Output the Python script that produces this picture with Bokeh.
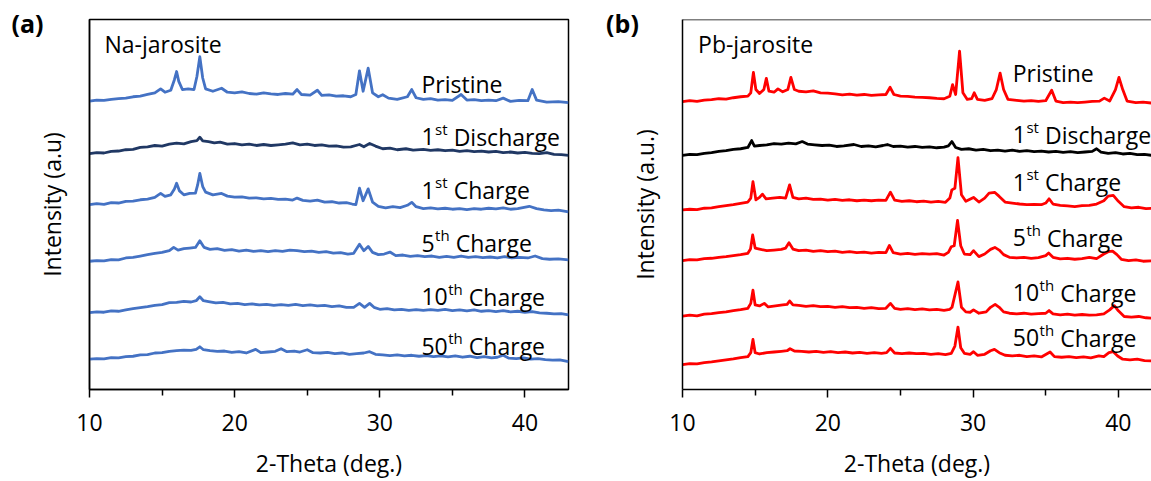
from bokeh.plotting import figure
from bokeh.layouts import row
from bokeh.models import Range1d, FixedTicker, Label, Span, ColumnDataSource
from bokeh.core.properties import value
from bokeh.embed import file_html
from bokeh.resources import INLINE

# ---------------- data: (2-theta in deg, stacked intensity in a.u.) ----------------
na_pristine = [
    (10, 292.3), (10.5, 293.3), (11, 293), (11.5, 294), (12, 294.7), (12.5, 295.3), (13, 296.7), (13.5, 297.3),
    (14, 299), (14.5, 300.7), (14.9, 304.7), (15.2, 301.3), (15.6, 303.3), (15.85, 314), (16.0, 322.3),
    (16.15, 312.3), (16.4, 304), (16.8, 304.7), (17.2, 304), (17.4, 317.3), (17.6, 337.3), (17.8, 315.7),
    (18.0, 304.7), (18.5, 302.3), (19.1, 305.3), (19.5, 301.3), (20, 300.7), (20.5, 301.7), (21, 300),
    (21.5, 299.3), (22, 300.7), (22.5, 299.7), (23, 299), (23.5, 300), (24, 299.3), (24.3, 304), (24.6, 299),
    (25.2, 298.3), (25.7, 303.3), (26.0, 298), (26.5, 298.7), (27, 297.3), (27.5, 297.7), (28, 296.7),
    (28.35, 299), (28.6, 323), (28.85, 302.3), (29.2, 325.7), (29.5, 300.7), (29.9, 296.7), (30.2, 298.7),
    (30.6, 295.3), (31.2, 294), (31.9, 296.7), (32.2, 304), (32.5, 295.7), (33, 294), (33.5, 294.7), (34, 293.3),
    (34.5, 293.8), (35, 293), (35.6, 299), (36, 293.3), (36.5, 293.7), (37, 292.7), (37.5, 293.3), (38, 292.7),
    (38.5, 295.3), (39, 292), (39.6, 293), (40.2, 292.7), (40.5, 304), (40.8, 293.3), (41.5, 291.3),
    (42.3, 291.7), (43, 290.7)]

na_discharge1 = [
    (10, 239), (10.5, 240), (11, 239.7), (11.5, 241.3), (12, 241.7), (12.5, 243), (13, 243.3), (13.5, 245.3),
    (14, 246), (14.5, 247.3), (15, 246.7), (15.5, 248.7), (16, 249.7), (16.5, 249), (17, 251.3), (17.4, 252.3),
    (17.6, 255.7), (17.8, 252), (18.2, 251.3), (18.6, 250), (19, 250.7), (19.5, 248.7), (20, 249.3), (20.5, 248),
    (21, 248.7), (21.5, 247.3), (22, 248.3), (22.5, 247.3), (23, 248), (23.5, 248.7), (24, 250), (24.5, 248),
    (25, 248.7), (25.5, 247.3), (26, 248), (26.5, 246.7), (27, 247), (27.5, 245.7), (28, 246), (28.6, 248.3),
    (28.9, 246), (29.3, 249.3), (29.7, 246.7), (30.2, 244), (30.7, 244.7), (31.2, 243), (31.8, 244),
    (32.3, 242.7), (33, 243.3), (33.5, 242.3), (34, 243), (34.5, 242), (35, 242.7), (35.5, 241.3), (36, 242),
    (36.5, 241), (37, 241.7), (37.5, 240.7), (38, 241.3), (38.5, 240), (39, 240.7), (39.5, 239.7), (40, 240.3),
    (40.5, 239.3), (41, 239), (41.5, 240), (42, 238.3), (42.5, 238), (43, 237.3)]

na_charge1 = [
    (10, 187.3), (10.5, 188.3), (11, 187.7), (11.5, 189.3), (12, 189), (12.5, 190.7), (13, 191), (13.5, 192.3),
    (14, 193), (14.5, 194.7), (14.9, 198.7), (15.2, 195.7), (15.6, 197.3), (15.85, 203.3), (16.0, 209),
    (16.2, 201.3), (16.5, 197.3), (16.9, 198.7), (17.3, 199), (17.45, 207.3), (17.6, 219), (17.8, 205.7),
    (18.0, 200), (18.5, 197.3), (19.1, 198.7), (19.5, 196), (20, 195), (20.5, 195.3), (21, 194), (21.5, 194.3),
    (22, 193.3), (22.5, 193.7), (23, 192.7), (23.5, 193), (24, 192), (24.3, 194), (24.7, 191.7), (25.2, 191),
    (25.7, 192), (26.2, 190), (26.7, 190.3), (27.2, 189), (27.7, 189.3), (28.1, 188), (28.35, 187.3),
    (28.6, 204), (28.85, 191.3), (29.2, 203.3), (29.5, 190), (29.9, 185.7), (30.4, 184), (30.9, 185.3),
    (31.4, 184.3), (31.9, 186.7), (32.2, 189.7), (32.5, 185.3), (33, 183.3), (33.5, 184), (34, 183),
    (34.5, 183.7), (35, 182.7), (35.5, 183.3), (36, 182.3), (36.5, 183.3), (37, 182.7), (37.5, 183.7), (38, 183),
    (38.5, 184), (39, 182.7), (39.5, 183.3), (40.3, 185.7), (40.8, 183.3), (41.3, 182), (41.8, 181.3),
    (42.3, 181.7), (43, 180)]

na_charge5 = [
    (10, 130), (10.5, 130.7), (11, 130.3), (11.5, 131.7), (12, 131.3), (12.5, 133.3), (13, 134), (13.5, 135.3),
    (14, 136.7), (14.5, 138), (15, 139), (15.5, 140.7), (15.8, 144), (16.1, 141.3), (16.5, 142.7), (16.9, 143.3),
    (17.3, 144), (17.6, 150.7), (17.9, 144), (18.3, 142), (18.8, 142.7), (19.3, 141), (19.8, 141.7), (20.3, 140.3),
    (20.8, 141.3), (21.3, 140), (21.8, 140.7), (22.3, 139.7), (22.8, 140.7), (23.3, 140), (23.8, 141.3),
    (24.3, 140.7), (24.8, 139.7), (25.3, 140.3), (25.8, 139), (26.3, 139.7), (26.8, 138.3), (27.3, 138.7),
    (27.8, 137.3), (28.2, 138), (28.6, 147.3), (28.9, 140.7), (29.2, 145), (29.5, 139), (29.9, 136.7),
    (30.3, 137.3), (30.7, 139.3), (31.1, 135.7), (31.6, 136.3), (32.1, 135), (32.6, 135.7), (33.1, 134.7),
    (33.6, 135.3), (34.1, 134), (34.6, 135), (35.1, 134), (35.6, 135.3), (36.1, 134), (36.6, 134.7),
    (37.1, 133.7), (37.6, 134.3), (38.1, 133.3), (38.6, 134.7), (39.1, 133.3), (39.6, 134), (40.2, 133.3),
    (40.7, 135.3), (41.2, 132.7), (41.7, 132), (42.3, 132.3), (43, 131.3)]

na_charge10 = [
    (10, 78), (10.5, 78.7), (11, 78.3), (11.5, 79.7), (12, 79.3), (12.5, 80.7), (13, 82), (13.5, 83), (14, 84),
    (14.5, 85.3), (15, 86), (15.5, 88), (16, 88.3), (16.5, 89.3), (17, 88.7), (17.35, 90), (17.6, 94),
    (17.85, 90), (18.2, 89), (18.7, 87.7), (19.2, 88.3), (19.7, 86.7), (20.2, 87.3), (20.7, 86), (21.2, 86.7),
    (21.7, 85.7), (22.2, 86.3), (22.7, 85.3), (23.2, 86), (23.7, 85.3), (24.2, 86.3), (24.7, 85), (25.2, 85.7),
    (25.7, 84.7), (26.2, 85.3), (26.7, 84), (27.2, 84.7), (27.7, 83.3), (28.2, 83.3), (28.6, 87.3),
    (28.95, 83.3), (29.3, 87.3), (29.6, 83.3), (30, 81.3), (30.5, 82), (31, 80.7), (31.5, 81.3), (32, 80.3),
    (32.5, 81), (33, 80.3), (33.5, 81), (34, 80.3), (34.5, 81.3), (35, 80), (35.5, 80.7), (36, 79.7),
    (36.5, 80.7), (37, 79.3), (37.5, 80), (38, 79), (38.5, 80), (39, 78.7), (39.5, 79.3), (40, 78.3), (40.5, 79),
    (41, 77.7), (41.5, 77.3), (42, 76.7), (42.5, 77), (43, 75.7)]

na_charge50 = [
    (10, 30.7), (10.5, 31.3), (11, 31), (11.5, 32.3), (12, 32), (12.5, 33.3), (13, 33.7), (13.5, 35), (14, 35.3),
    (14.5, 37), (15, 37.3), (15.5, 38.7), (16, 39.3), (16.5, 40), (17, 39.7), (17.35, 40.7), (17.6, 43.3),
    (17.85, 40.3), (18.3, 39.3), (18.8, 38.7), (19.3, 39), (19.8, 37.7), (20.3, 38.3), (20.8, 37), (21.45, 40.7),
    (21.8, 37.3), (22.3, 38), (22.8, 38.7), (23.2, 41.3), (23.6, 38.3), (24.1, 39), (24.5, 38), (25.0, 40.3),
    (25.4, 37.3), (25.9, 37), (26.4, 37.7), (26.9, 36.3), (27.4, 37), (27.9, 35.7), (28.4, 36.3), (28.9, 37),
    (29.3, 38.3), (29.7, 35.7), (30.2, 35), (30.7, 34.3), (31.2, 35), (31.7, 34), (32.2, 34.7), (32.7, 33.7),
    (33.2, 34.3), (33.7, 33.3), (34.2, 34), (34.7, 33), (35.2, 34), (35.7, 32.7), (36.2, 33.7), (36.7, 32.3),
    (37.2, 33.3), (37.7, 32), (38.1, 32.7), (38.5, 34.7), (38.9, 31.7), (39.4, 31.3), (39.9, 32), (40.4, 30.7),
    (40.9, 31.3), (41.4, 30.3), (41.9, 29.7), (42.4, 30), (43, 28.3)]

pb_pristine = [
    (10, 291.7), (10.5, 292.7), (11, 292), (11.5, 293.3), (12, 293.7), (12.5, 294.7), (13, 294.3), (13.5, 295.7),
    (14, 296.7), (14.5, 297.3), (14.7, 300.7), (14.88, 321.3), (15.05, 304), (15.3, 300), (15.6, 304),
    (15.77, 315.3), (15.95, 302.3), (16.3, 301.3), (16.57, 304.7), (16.9, 301.7), (17.25, 304), (17.46, 316.3),
    (17.7, 304), (18.0, 302.3), (18.5, 301.7), (19.0, 302.7), (19.5, 300.7), (20, 300.3), (20.5, 299.7),
    (21, 298.7), (21.5, 299.3), (22, 298.3), (22.5, 299), (23, 298), (23.5, 298.7), (24.0, 299), (24.29, 306.3),
    (24.55, 299), (25, 297.3), (25.5, 297), (26, 296.3), (26.5, 296), (27, 295.7), (27.5, 295), (28, 294.7),
    (28.4, 297.3), (28.59, 309), (28.8, 299), (29.07, 343), (29.3, 300.7), (29.6, 294), (29.9, 294.7),
    (30.08, 300.7), (30.3, 294), (30.8, 293), (31.3, 294.7), (31.6, 304), (31.86, 320.7), (32.1, 304),
    (32.4, 294), (33, 293), (33.5, 292.3), (34, 292.7), (34.5, 292), (35, 292.7), (35.41, 303.3), (35.7, 292.3),
    (36.2, 290.7), (36.7, 291.3), (37.2, 290.7), (37.7, 291.3), (38.2, 292), (38.7, 292.3), (39.03, 295.3),
    (39.4, 292.3), (39.8, 304), (40.04, 316.3), (40.3, 304), (40.6, 292.3), (41.2, 290.7), (41.7, 291.3),
    (42.3, 290.3), (43, 290)]

pb_discharge1 = [
    (10, 237.3), (10.5, 238.3), (11, 238), (11.5, 239.3), (12, 240), (12.5, 241.3), (13, 242), (13.5, 243.3),
    (14, 244), (14.5, 245.3), (14.76, 252.3), (14.95, 246.7), (15.3, 247.3), (15.8, 248), (16.3, 249.3),
    (16.8, 248.7), (17.3, 249.7), (17.8, 249), (18.24, 251.3), (18.6, 248.7), (19.1, 248), (19.6, 247.3),
    (20.1, 247.7), (20.6, 246.3), (21.1, 247), (21.8, 248.3), (22.3, 246.3), (22.8, 247), (23.3, 246),
    (23.8, 247.3), (24.1, 248.3), (24.5, 246.3), (25, 246.7), (25.5, 245.7), (26, 246.3), (26.5, 245.3),
    (27, 246), (27.5, 245), (28, 245.7), (28.3, 247), (28.54, 251.3), (28.8, 245.3), (29.2, 243.3), (29.7, 244),
    (30.2, 242.7), (30.7, 243.3), (31.2, 242), (31.7, 242.7), (32.2, 241.7), (32.7, 242.7), (33.2, 241.3),
    (33.7, 242), (34.2, 241), (34.7, 241.7), (35.2, 240.7), (35.7, 241.3), (36.2, 240.3), (36.7, 241),
    (37.2, 240), (37.7, 240.7), (38.2, 241.3), (38.5, 244), (38.8, 240.7), (39.3, 239.3), (39.8, 240),
    (40.3, 238.7), (40.8, 239.3), (41.3, 238), (41.8, 238.3), (42.3, 237.3), (43, 237)]

pb_charge1 = [
    (10, 182), (10.5, 182.7), (11, 182.3), (11.5, 183.7), (12, 184), (12.5, 185.3), (13, 186.3), (13.5, 187.3),
    (14, 188.7), (14.5, 190), (14.7, 194), (14.85, 210.7), (15.05, 192.3), (15.3, 194.7), (15.5, 198),
    (15.75, 193.3), (16.2, 194), (16.7, 194.7), (17.1, 194), (17.37, 207.3), (17.6, 194.7), (18.0, 193.3),
    (18.5, 194), (19, 192.7), (19.5, 193), (20, 192), (20.5, 192.7), (21, 191.7), (21.5, 192.3), (22, 191.3),
    (22.5, 192), (23, 191.3), (23.5, 192), (24.0, 191.7), (24.31, 200), (24.6, 192), (25.1, 190.7),
    (25.6, 191.3), (26.1, 190.3), (26.6, 191), (27.1, 190), (27.6, 190.7), (28.1, 189.7), (28.4, 194),
    (28.54, 202.3), (28.75, 204), (28.96, 235), (29.2, 197.3), (29.5, 190.7), (30.03, 194.7), (30.4, 190),
    (30.8, 194), (31.1, 199), (31.5, 199.7), (31.8, 195.7), (32.2, 190), (32.7, 189), (33.2, 188), (33.7, 187.3),
    (34.2, 187.7), (34.7, 187.3), (35.0, 189), (35.23, 193.3), (35.5, 188), (36, 186.7), (36.5, 186),
    (37, 185.3), (37.5, 186.3), (38, 186.7), (38.5, 188), (39, 191.3), (39.3, 196), (39.65, 196.7), (40.0, 190.7),
    (40.4, 185.3), (40.9, 184), (41.4, 184.7), (41.9, 183.3), (42.3, 183.7), (43, 183)]

pb_charge5 = [
    (10, 130.7), (10.5, 131.7), (11, 131.3), (11.5, 132.7), (12, 133), (12.5, 134), (13, 134.7), (13.5, 135.7),
    (14, 136.7), (14.5, 138), (14.68, 142.3), (14.83, 156.7), (15.0, 143.3), (15.3, 142.3), (15.8, 140.7),
    (16.3, 141.3), (16.8, 142), (17.1, 143.3), (17.33, 148.7), (17.6, 142.3), (18.0, 140.7), (18.5, 141.3),
    (19, 140), (19.5, 140.7), (20, 139.7), (20.5, 140.3), (21, 139), (21.5, 139.7), (22, 138.7), (22.5, 139.3),
    (23, 138.3), (23.5, 139), (24.0, 138.7), (24.24, 146), (24.5, 138.7), (25, 137.3), (25.5, 138), (26, 137),
    (26.5, 137.7), (27, 137.3), (27.5, 137.7), (28.0, 136.3), (28.3, 139), (28.5, 144.7), (28.7, 145.7),
    (28.93, 171.3), (29.15, 145.7), (29.4, 137.3), (29.8, 136.7), (30.03, 140.7), (30.4, 134.7), (30.8, 137.3),
    (31.2, 142), (31.5, 144), (31.8, 141.3), (32.1, 136.7), (32.5, 134), (33, 133.3), (33.5, 134), (34, 133),
    (34.5, 133.7), (35, 135.7), (35.2, 138.3), (35.5, 134), (36, 132.3), (36.5, 133), (37, 132), (37.5, 132.7),
    (38, 134), (38.5, 132.7), (39, 137.3), (39.3, 139.7), (39.6, 140.3), (39.9, 136.7), (40.2, 132),
    (40.7, 130.7), (41.2, 131.3), (41.7, 130), (42.3, 130.3), (43, 129.7)]

pb_charge10 = [
    (10, 74.3), (10.5, 75.3), (11, 74.7), (11.5, 76.3), (12, 77), (12.5, 78), (13, 78.7), (13.5, 80), (14, 81),
    (14.5, 82.3), (14.7, 87.3), (14.85, 100.7), (15.0, 85.7), (15.3, 84.7), (15.63, 87.3), (15.9, 83.7),
    (16.4, 84.7), (16.9, 85.7), (17.2, 86.3), (17.37, 89.7), (17.6, 85.7), (18, 85.3), (18.5, 84.3), (19, 85),
    (19.5, 84), (20, 84.3), (20.5, 83.3), (21, 84), (21.5, 83), (22, 83.3), (22.5, 82.3), (23, 83), (23.5, 82),
    (24.0, 82.3), (24.31, 87.3), (24.6, 82.3), (25, 81.3), (25.5, 82), (26, 81), (26.5, 81.7), (27, 80.7),
    (27.5, 81.3), (28, 80.3), (28.4, 81.3), (28.55, 83.3), (28.96, 109), (29.2, 83.3), (29.5, 78.7),
    (29.8, 78.3), (30.03, 80.7), (30.4, 77.3), (30.9, 78.7), (31.2, 83.3), (31.52, 86.3), (31.8, 83.3),
    (32.1, 78.7), (32.5, 77.3), (33, 76.7), (33.5, 77.3), (34, 76.3), (34.5, 77), (35.0, 77.3), (35.23, 80),
    (35.5, 76.7), (36, 75.7), (36.5, 76.3), (37, 75.3), (37.5, 76), (38, 75.3), (38.5, 75.7), (39.0, 76.7),
    (39.4, 80.7), (39.72, 85), (40.0, 79.7), (40.4, 74), (40.9, 73.3), (41.4, 74), (41.9, 72.7), (42.3, 72.3),
    (43, 72)]

pb_charge50 = [
    (10, 25.3), (10.5, 26.3), (11, 26), (11.5, 27.3), (12, 28), (12.5, 29), (13, 30), (13.5, 31), (14, 32.3),
    (14.5, 33.3), (14.7, 37.3), (14.85, 50.7), (15.0, 37.3), (15.3, 36), (15.8, 37.3), (16.3, 38), (16.8, 38.7),
    (17.2, 39.3), (17.4, 41.3), (17.7, 39), (18.2, 38.7), (18.7, 38), (19.2, 38.7), (19.7, 37.7), (20.2, 38.3),
    (20.7, 37.3), (21.2, 38), (21.7, 37), (22.2, 37.7), (22.7, 36.7), (23.2, 37.3), (23.7, 36.7), (24.05, 37.3),
    (24.31, 41.7), (24.6, 37), (25.1, 36.3), (25.6, 37), (26.1, 36.3), (26.6, 36.7), (27.1, 35.7), (27.6, 36.3),
    (28.1, 35.3), (28.5, 36.7), (28.75, 44), (28.96, 63.3), (29.15, 42.3), (29.4, 36.7), (29.8, 35.7),
    (30.03, 38.3), (30.3, 34.7), (30.8, 35.7), (31.2, 39.3), (31.47, 40.7), (31.8, 37.3), (32.2, 34.7),
    (32.7, 34), (33.2, 34.7), (33.7, 33.3), (34.2, 34), (34.7, 33), (35.3, 38), (35.6, 33.3), (36.1, 32.7),
    (36.6, 33.3), (37.1, 32.3), (37.6, 33), (38.1, 32), (38.66, 34), (39.0, 33.3), (39.35, 37.3), (39.65, 38.3),
    (39.95, 34), (40.3, 30.7), (40.8, 30), (41.3, 30.7), (41.8, 29.3), (42.3, 29), (43, 28.7)]

# label texts: (number, superscript, rest)
series_labels = [("Pristine", "", ""), ("1", "st", "Discharge"), ("1", "st", "Charge"),
                 ("5", "th", "Charge"), ("10", "th", "Charge"), ("50", "th", "Charge")]
na_series = [na_pristine, na_discharge1, na_charge1, na_charge5, na_charge10, na_charge50]
pb_series = [pb_pristine, pb_discharge1, pb_charge1, pb_charge5, pb_charge10, pb_charge50]

# ---------------- styling / layout ----------------
FONT = "Open Sans"
BLUE = "#4472C4"
NAVY = "#203864"
RED = "#FF0000"
BLACK = "#000000"
na_colors = [BLUE, NAVY, BLUE, BLUE, BLUE, BLUE]
pb_colors = [RED, BLACK, RED, RED, RED, RED]

MAIN_PX = 23
SUP_PX = 15
EM = {"0": 0.572, "1": 0.572, "5": 0.572, "s": 0.477, "t": 0.361, "h": 0.613, " ": 0.26}


def width_px(s, size):
    return sum(EM.get(c, 0.55) for c in s) * size


def make_panel(width, border_left, border_right, x_end, ylabel, full_outline):
    p = figure(width=width, height=481, x_range=Range1d(10, x_end), y_range=Range1d(0, 375),
               output_backend="svg", toolbar_location=None,
               min_border_left=border_left, min_border_right=border_right,
               min_border_top=19, min_border_bottom=87)
    p.grid.visible = False
    p.background_fill_color = "white"
    p.border_fill_color = "white"
    if full_outline:
        p.outline_line_color = "black"
        p.outline_line_width = 1.5
    else:
        p.outline_line_color = None
        p.add_layout(Span(location=375, dimension="width", line_color="black", line_width=1.5))

    xa = p.xaxis[0]
    xa.ticker = FixedTicker(ticks=[10, 20, 30, 40], minor_ticks=[15, 25, 35])
    xa.major_tick_out = 8
    xa.major_tick_in = 0
    xa.minor_tick_out = 6
    xa.minor_tick_in = 0
    xa.axis_line_color = "black"
    xa.axis_line_width = 1.5
    xa.major_tick_line_color = "black"
    xa.major_tick_line_width = 1.5
    xa.minor_tick_line_color = "black"
    xa.minor_tick_line_width = 1.5
    xa.major_label_text_font = FONT
    xa.major_label_text_font_size = f"{MAIN_PX}px"
    xa.major_label_text_color = "black"
    xa.major_label_standoff = 16
    xa.axis_label = "2-Theta (deg.)"
    xa.axis_label_text_font = FONT
    xa.axis_label_text_font_size = f"{MAIN_PX}px"
    xa.axis_label_text_font_style = "normal"
    xa.axis_label_text_color = "black"
    xa.axis_label_standoff = 13

    ya = p.yaxis[0]
    ya.ticker = FixedTicker(ticks=[])
    ya.major_tick_out = 0
    ya.major_tick_in = 0
    ya.minor_tick_out = 0
    ya.minor_tick_in = 0
    ya.axis_line_color = "black"
    ya.axis_line_width = 1.5
    ya.axis_label = ylabel
    ya.axis_label_text_font = FONT
    ya.axis_label_text_font_size = f"{MAIN_PX}px"
    ya.axis_label_text_font_style = "normal"
    ya.axis_label_text_color = "black"
    ya.axis_label_standoff = 22
    return p


def draw_panel(p, series, colors, label_x, label_baselines, title, title_x, tag, tag_x):
    for pts, col in zip(series, colors):
        xs = [a for a, b in pts]
        ys = [b for a, b in pts]
        p.line(xs, ys, line_color=col, line_width=2.8, line_join="round")

    main = dict(x=[], y=[], text=[], xoff=[])
    sup = dict(x=[], y=[], text=[], xoff=[])
    for (num, sp, rest), yb in zip(series_labels, label_baselines):
        main["x"].append(label_x); main["y"].append(yb); main["text"].append(num); main["xoff"].append(0)
        if sp:
            w_num = width_px(num, MAIN_PX)
            w_sup = width_px(sp, SUP_PX)
            sup["x"].append(label_x); sup["y"].append(yb); sup["text"].append(sp); sup["xoff"].append(w_num + 0.5)
            main["x"].append(label_x); main["y"].append(yb); main["text"].append(rest)
            main["xoff"].append(w_num + w_sup + width_px(" ", MAIN_PX) + 0.5)
    p.text(x="x", y="y", text="text", x_offset="xoff", source=ColumnDataSource(main),
           text_font=value(FONT), text_font_size=f"{MAIN_PX}px", text_color="black",
           text_align="left", text_baseline="alphabetic")
    p.text(x="x", y="y", text="text", x_offset="xoff", y_offset=-8, source=ColumnDataSource(sup),
           text_font=value(FONT), text_font_size=f"{SUP_PX}px", text_color="black",
           text_align="left", text_baseline="alphabetic")

    p.add_layout(Label(x=title_x, y=350, text=title, text_font=FONT, text_font_size=f"{MAIN_PX}px",
                       text_color="black", text_align="left", text_baseline="alphabetic"))
    # panel tag placed in the left side panel so that it is not clipped to the frame
    p.add_layout(Label(x=tag_x, y=367, x_units="screen", y_units="screen", text=tag, text_font=FONT,
                       text_font_size="25px", text_font_style="bold", text_color="black",
                       text_align="center", text_baseline="middle"), "left")


pa = make_panel(592, 88, 24, 43, "Intensity (a.u)", True)
draw_panel(pa, na_series, na_colors, 32.87, [310, 256, 201.7, 148.3, 94, 44],
           "Na-jarosite", 11.03, "(a)", 27)

pb = make_panel(559, 89, 0, 10 + 470 / 14.56, "Intensity (a.u.)", False)
draw_panel(pb, pb_series, pb_colors, 32.73, [320.7, 258.3, 210, 154, 98.3, 52.7],
           "Pb-jarosite", 11.07, "(b)", 30)

layout = row(pa, pb, spacing=0)
open("out.html", "w").write(file_html(layout, INLINE))
